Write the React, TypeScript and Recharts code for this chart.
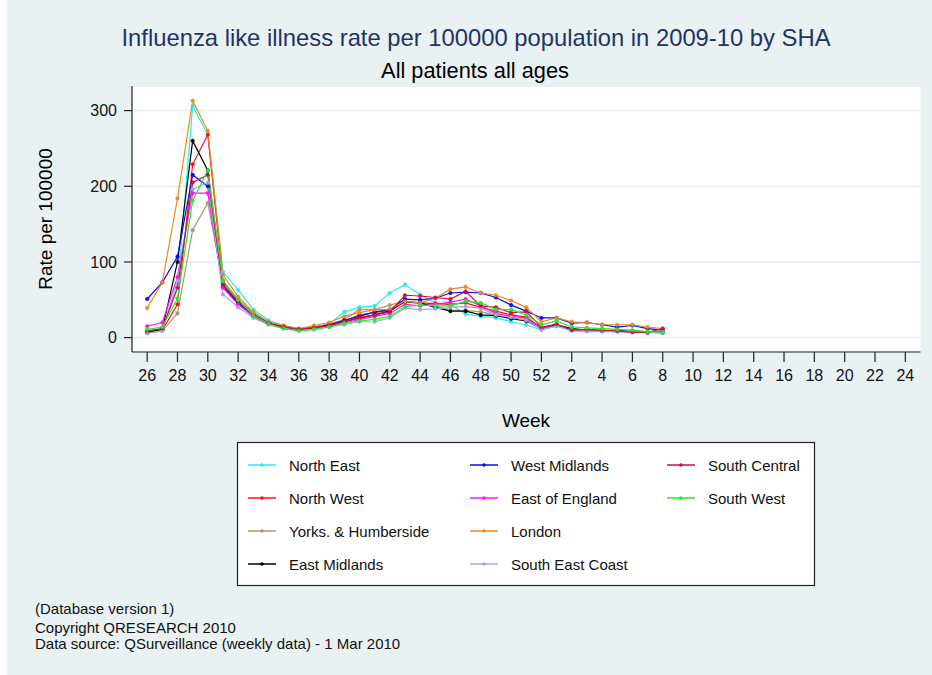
import React from "react";
import { LineChart, Line, XAxis, YAxis, CartesianGrid } from "recharts";

const weeks = [26, 27, 28, 29, 30, 31, 32, 33, 34, 35, 36, 37, 38, 39, 40, 41, 42, 43, 44, 45, 46, 47, 48, 49, 50, 51, 52, 1, 2, 3, 4, 5, 6, 7, 8];
const tickWeeks = [26, 28, 30, 32, 34, 36, 38, 40, 42, 44, 46, 48, 50, 52, 2, 4, 6, 8, 10, 12, 14, 16, 18, 20, 22, 24];
const yTicks = [0, 100, 200, 300];

const northEast = [8, 12, 65, 306, 268, 87, 63, 37, 23, 16, 12, 14, 18, 34, 40, 42, 59, 70, 57, 46, 44, 31, 28, 26, 21, 17, 10, 15, 9, 8, 8, 8, 8, 7, 6];
const northWest = [8, 10, 44, 229, 268, 75, 50, 32, 20, 15, 11, 14, 17, 22, 30, 33, 36, 47, 46, 45, 44, 46, 40, 35, 30, 27, 13, 17, 11, 10, 9, 9, 8, 7, 8];
const yorks = [6, 9, 32, 142, 178, 72, 50, 32, 20, 14, 11, 14, 18, 24, 37, 37, 43, 48, 45, 42, 36, 36, 34, 30, 27, 24, 13, 17, 11, 10, 9, 9, 8, 7, 7];
const eastMidlands = [7, 11, 100, 260, 221, 67, 45, 30, 19, 13, 10, 12, 16, 21, 26, 30, 35, 48, 46, 40, 35, 35, 30, 29, 25, 22, 12, 17, 12, 10, 9, 9, 8, 7, 7];
const westMidlands = [51, 73, 107, 215, 200, 70, 46, 30, 19, 14, 11, 13, 17, 23, 28, 34, 37, 51, 50, 52, 59, 60, 59, 53, 43, 35, 26, 26, 19, 20, 17, 14, 16, 12, 10];
const eastOfEngland = [15, 20, 80, 191, 191, 66, 44, 28, 18, 13, 10, 12, 15, 19, 24, 28, 32, 44, 42, 44, 47, 51, 42, 32, 28, 26, 12, 16, 10, 9, 9, 8, 8, 7, 7];
const london = [39, 73, 184, 313, 273, 83, 54, 34, 21, 16, 12, 16, 20, 28, 33, 37, 37, 48, 46, 52, 64, 67, 59, 56, 49, 40, 21, 26, 21, 20, 17, 17, 17, 14, 12];
const southEastCoast = [6, 9, 75, 196, 205, 57, 40, 26, 17, 12, 10, 11, 14, 17, 21, 21, 26, 39, 37, 38, 40, 41, 39, 30, 27, 23, 11, 15, 10, 9, 8, 8, 8, 7, 7];
const southCentral = [9, 12, 66, 205, 215, 70, 48, 30, 19, 14, 11, 13, 16, 21, 26, 30, 34, 56, 55, 53, 51, 61, 42, 40, 33, 34, 14, 18, 10, 11, 10, 9, 7, 7, 12];
const southWest = [11, 14, 52, 181, 221, 75, 50, 30, 18, 12, 9, 11, 14, 19, 22, 24, 28, 41, 43, 42, 42, 48, 46, 37, 37, 30, 17, 22, 14, 13, 12, 11, 10, 8, 7];

const seriesNames = ["North East", "North West", "Yorks. & Humberside", "East Midlands", "West Midlands", "East of England", "London", "South East Coast", "South Central", "South West"];
const seriesValues = [northEast, northWest, yorks, eastMidlands, westMidlands, eastOfEngland, london, southEastCoast, southCentral, southWest];
const seriesColors = ["#22EEEE", "#FF1010", "#A8996A", "#000000", "#0A0AF0", "#FF10FF", "#EE8820", "#A6A6E2", "#CC1144", "#22EE22"];

const weekToIdx = (w: number) => (w >= 26 ? w - 26 : w + 26);
const idxToWeek = (i: number) => (i <= 26 ? i + 26 : i - 26);

const data = weeks.map((w, i) => {
  const row: Record<string, number> = { idx: weekToIdx(w) };
  seriesNames.forEach((n, s) => {
    row["s" + s] = seriesValues[s][i];
  });
  return row;
});

const BG = "#EAF1F3";
const FONT = "Arial, 'Liberation Sans', Helvetica, sans-serif";

const legendCols = [
  { lx: 248, tx: 289, items: [0, 1, 2, 3] },
  { lx: 470, tx: 511, items: [4, 5, 6, 7] },
  { lx: 667, tx: 708, items: [8, 9] },
];
const legendRows = [465, 498, 531, 564];

export default function App() {
  return (
    <div style={{ position: "absolute", left: 0, top: 0, width: 932, height: 675, background: "#fff", fontFamily: FONT }}>
      <div style={{ position: "absolute", left: 7, top: 0, width: 925, height: 675, background: BG }} />
      <div style={{ position: "absolute", left: 0, top: 0 }}>
        <LineChart width={932} height={675} data={data} margin={{ top: 86, right: 11.5, bottom: 293, left: 72 }}>
          <CartesianGrid vertical={false} stroke={BG} strokeWidth={2} fill="#ffffff" />
          <XAxis
            dataKey="idx"
            type="number"
            domain={[-1, 51]}
            ticks={tickWeeks.map(weekToIdx)}
            tickFormatter={(v: number) => String(idxToWeek(v))}
            height={30}
            tickSize={10}
            tickMargin={8}
            interval={0}
            stroke="#222"
            strokeWidth={1.2}
            tick={{ fill: "#111", fontSize: 16, fontFamily: FONT }}
          />
          <YAxis
            type="number"
            domain={[-19, 332.5]}
            ticks={yTicks}
            width={60}
            tickSize={8}
            tickMargin={7}
            interval={0}
            stroke="#222"
            strokeWidth={1.2}
            tick={{ fill: "#111", fontSize: 16, fontFamily: FONT }}
          />
          {seriesNames.map((n, s) => (
            <Line
              key={n}
              dataKey={"s" + s}
              name={n}
              stroke={seriesColors[s]}
              strokeWidth={1.2}
              dot={{ r: 1.8, fill: seriesColors[s], stroke: seriesColors[s], strokeWidth: 0.5 }}
              activeDot={false}
              isAnimationActive={false}
              type="linear"
            />
          ))}
        </LineChart>
      </div>
      <svg width={932} height={675} style={{ position: "absolute", left: 0, top: 0, pointerEvents: "none" }}>
        <text x={476} y={46} textAnchor="middle" fontSize={23.8} fill="#1F3466" fontFamily={FONT}>
          Influenza like illness rate per 100000 population in 2009-10 by SHA
        </text>
        <text x={475} y={78} textAnchor="middle" fontSize={21.8} fill="#000" fontFamily={FONT}>
          All patients all ages
        </text>
        <text x={526} y={427} textAnchor="middle" fontSize={19} fill="#000" fontFamily={FONT}>
          Week
        </text>
        <text x={0} y={0} textAnchor="middle" fontSize={19} fill="#000" fontFamily={FONT} transform="translate(52,219) rotate(-90)">
          Rate per 100000
        </text>
        <rect x={237.5} y={442.5} width={577} height={143} fill="#fff" stroke="#222" strokeWidth={1.2} />
        {legendCols.map((c, ci) =>
          c.items.map((s, ri) => (
            <g key={ci + "-" + ri}>
              <line x1={c.lx} x2={c.lx + 28} y1={legendRows[ri]} y2={legendRows[ri]} stroke={seriesColors[s]} strokeWidth={1.5} />
              <circle cx={c.lx + 14} cy={legendRows[ri]} r={1.8} fill={seriesColors[s]} />
              <text x={c.tx} y={legendRows[ri] + 5.5} fontSize={15} fill="#111" fontFamily={FONT}>
                {seriesNames[s]}
              </text>
            </g>
          ))
        )}
        <text x={35} y={614} fontSize={15} fill="#111" fontFamily={FONT}>(Database version 1)</text>
        <text x={35} y={633} fontSize={15} fill="#111" fontFamily={FONT}>Copyright QRESEARCH 2010</text>
        <text x={35} y={648.5} fontSize={15} fill="#111" fontFamily={FONT}>Data source: QSurveillance (weekly data) - 1 Mar 2010</text>
      </svg>
    </div>
  );
}
